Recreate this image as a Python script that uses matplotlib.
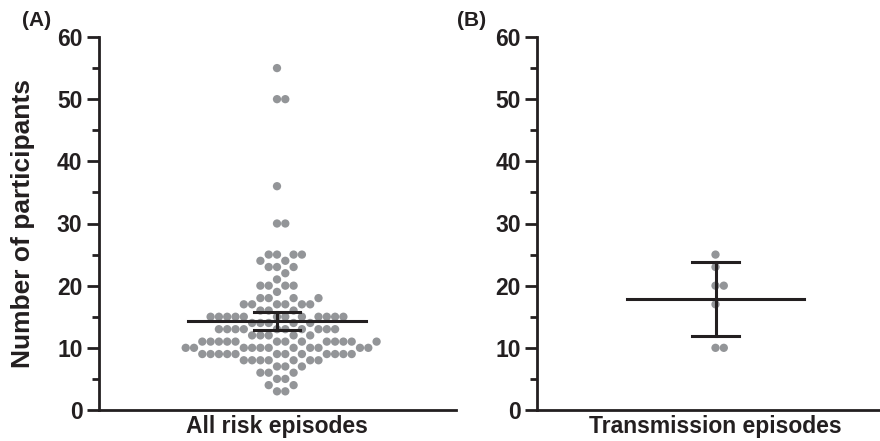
import numpy as np
import matplotlib
matplotlib.use("Agg")
import matplotlib.pyplot as plt

plt.rcParams['font.family'] = ['Liberation Sans', 'DejaVu Sans']
plt.rcParams['font.weight'] = 'bold'

# participants per episode (value, count)
risk_values = [55, 50, 36, 30, 25, 24, 23, 22, 21, 20, 19, 18, 17, 16, 15, 14,
               13, 12, 11, 10, 9, 8, 7, 6, 5, 4, 3]
risk_counts = [1, 2, 1, 2, 4, 2, 3, 1, 1, 4, 1, 4, 6, 3, 12, 5,
               10, 5, 13, 11, 12, 7, 3, 3, 2, 2, 2]
transmission = [25, 23, 20, 20, 17, 10, 10]

panel_labels = ["(A)", "(B)"]
x_labels = ["All risk episodes", "Transmission episodes"]

risk = np.repeat(risk_values, risk_counts).astype(float)

DOT = '#939598'
INK = '#231f20'
DIAM = 8.3  # px


def swarm_x(ax, vals, diam):
    """simple beeswarm: place each point nearest the centre without overlap"""
    order = np.argsort(vals)
    ys_px = ax.transData.transform(np.column_stack([np.full(len(vals), 0.5), vals]))[:, 1]
    cx_px = ax.transData.transform((0.5, 0))[0]
    placed = []
    xs = np.zeros(len(vals))
    for i in order:
        y = ys_px[i]
        best = None
        for k in range(0, 60):
            for s in ([0] if k == 0 else [1, -1]):
                off = s * k * diam * 0.5
                ok = True
                for (px, py) in placed:
                    if (px - off) ** 2 + (py - y) ** 2 < (diam * 0.98) ** 2:
                        ok = False
                        break
                if ok:
                    best = off
                    break
            if best is not None:
                break
        placed.append((best, y))
        xs[i] = best
    x_data = ax.transData.inverted().transform(
        np.column_stack([cx_px + xs, ys_px]))[:, 0]
    return x_data


fig = plt.figure(figsize=(8.8, 4.41), dpi=100)
ax1 = fig.add_axes([98.5 / 880, 31 / 441, 357 / 880, 373 / 441])
ax2 = fig.add_axes([537 / 880, 31 / 441, 357 / 880, 373 / 441])

for ax, vals, lab, kind in [(ax1, risk, x_labels[0], 'ci'),
                             (ax2, np.array(transmission, float), x_labels[1], 'sd')]:
    ax.set_xlim(0, 1)
    ax.set_ylim(0, 60)
    for sp in ['top', 'right']:
        ax.spines[sp].set_visible(False)
    for sp in ['left', 'bottom']:
        ax.spines[sp].set_linewidth(2.0)
        ax.spines[sp].set_color(INK)
    ax.set_xticks([])
    ax.set_yticks(np.arange(0, 61, 10))
    ax.set_yticks(np.arange(5, 60, 10), minor=True)
    ax.tick_params(axis='y', which='major', length=8.5, width=2.0, pad=3,
                   labelsize=16.5, color=INK, labelcolor=INK)
    ax.tick_params(axis='y', which='minor', length=5, width=2.0, color=INK)
    for t in ax.get_yticklabels():
        t.set_fontweight('bold')
    ax.set_xlabel(lab, fontsize=16.5, fontweight='bold', color=INK, va='center')
    ax.xaxis.set_label_coords(0.5, -16 / 373)

    xs = swarm_x(ax, vals, DIAM)
    ax.scatter(xs, vals, s=(DIAM * 0.72) ** 2, color=DOT, edgecolors='none',
               zorder=2, clip_on=False)

    m = vals.mean()
    sd = vals.std(ddof=1)
    if kind == 'ci':
        err = 1.96 * sd / np.sqrt(len(vals))
    else:
        err = sd
    ax.plot([0.5 - 0.248, 0.5 + 0.248], [m, m], color=INK, lw=2.2, zorder=3)
    ax.plot([0.5, 0.5], [m - err, m + err], color=INK, lw=2.2, zorder=3)
    for yv in (m - err, m + err):
        ax.plot([0.5 - 0.065, 0.5 + 0.065], [yv, yv], color=INK, lw=2.2, zorder=3)

ax1.set_ylabel("Number of participants", fontsize=19, fontweight='bold',
               color=INK, va='center')
ax1.yaxis.set_label_coords((23 - 98.5) / 357, 0.5)
fig.text(22 / 880, 1 - 20 / 441, panel_labels[0], fontsize=15, fontweight='bold',
         color=INK, va='center')
fig.text(457 / 880, 1 - 20 / 441, panel_labels[1], fontsize=15, fontweight='bold',
         color=INK, va='center')

fig.savefig("out.png", dpi=100)
